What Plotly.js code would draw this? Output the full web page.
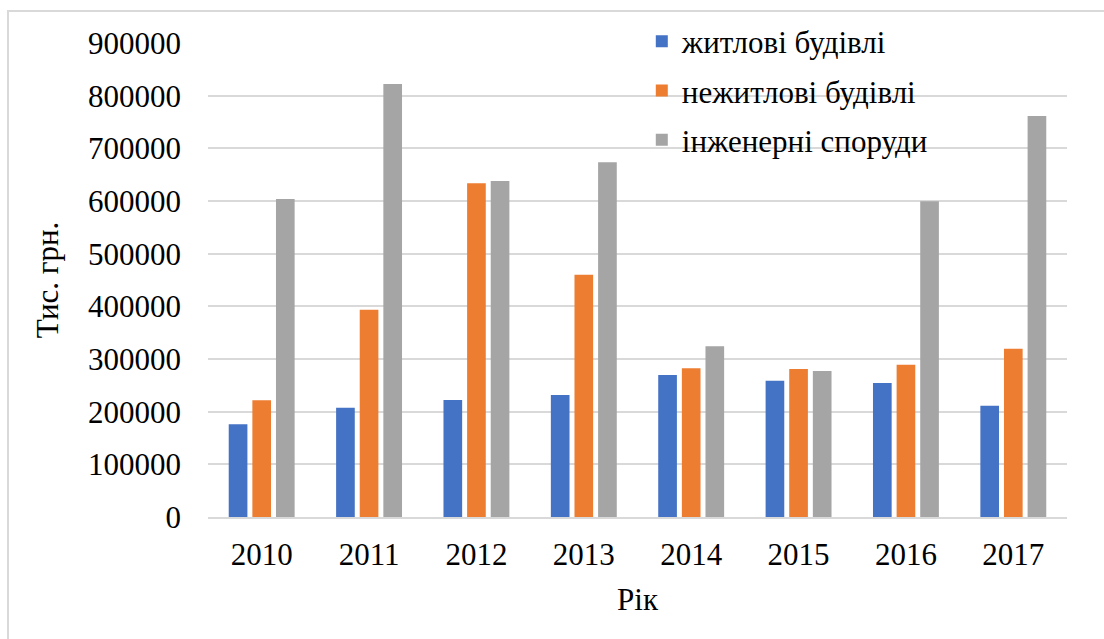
<!DOCTYPE html>
<html>
<head>
<meta charset="utf-8">
<script src="https://cdn.plot.ly/plotly-3.0.1.min.js"></script>
<style>
  html, body { margin: 0; padding: 0; background: #fff; }
  #wrap { position: relative; width: 1104px; height: 639px; overflow: hidden; }
  #chart { position: absolute; left: 0; top: 0; width: 1104px; height: 639px; }
  #frame { position: absolute; left: 7px; top: 10px; width: 1200px; height: 700px;
           border-left: 2px solid #d9d9d9; border-top: 2px solid #d9d9d9; pointer-events: none; }
</style>
</head>
<body>
<div id="wrap">
  <div id="chart"></div>
  <div id="frame"></div>
</div>
<script>
const years = ['2010', '2011', '2012', '2013', '2014', '2015', '2016', '2017'];
const seriesNames = ['житлові будівлі', 'нежитлові будівлі', 'інженерні споруди'];
const residential = [176000, 207600, 222000, 231600, 269600, 258900, 254400, 211400];
const nonResidential = [221500, 393700, 633500, 460000, 282300, 281000, 289200, 319600];
const engineering = [604000, 822000, 638000, 673400, 324000, 277200, 599400, 761400];
const yTicks = [0, 100000, 200000, 300000, 400000, 500000, 600000, 700000, 800000, 900000];
const colors = ['#4472C4', '#ED7D31', '#A5A5A5'];

const values = [residential, nonResidential, engineering];
const traces = values.map((v, i) => ({
  type: 'bar',
  name: seriesNames[i],
  x: years,
  y: v,
  legendgroup: 'g' + i,
  marker: { color: colors[i] },
  hoverinfo: 'x+y+name'
}));

const font = '"Liberation Serif", "Times New Roman", serif';

const layout = {
  width: 1104,
  height: 639,
  paper_bgcolor: 'rgba(0,0,0,0)',
  plot_bgcolor: 'rgba(0,0,0,0)',
  margin: { l: 208, r: 37, t: 43, b: 122 },
  barmode: 'group',
  bargap: 0.34,
  bargroupgap: 0.21,
  font: { family: font, size: 31, color: '#000' },
  xaxis: {
    type: 'category',
    showgrid: false,
    showline: true,
    linecolor: '#d9d9d9',
    linewidth: 2,
    ticks: '',
    tickfont: { family: font, size: 31, color: '#000' },
    ticklabelstandoff: 9,
    title: { text: 'Рік', font: { family: font, size: 31, color: '#000' }, standoff: 17 }
  },
  yaxis: {
    range: [0, 900000],
    tickvals: yTicks,
    ticktext: yTicks.map(String),
    showgrid: true,
    gridcolor: '#d9d9d9',
    gridwidth: 2,
    zeroline: false,
    showline: false,
    ticks: '',
    tickfont: { family: font, size: 31, color: '#000' },
    ticklabelstandoff: 26,
    title: { text: 'Тис. грн.', font: { family: font, size: 31, color: '#000' }, standoff: 20 }
  },
  showlegend: true,
  legend: {
    x: 0.505,
    y: 1.06,
    xanchor: 'left',
    yanchor: 'top',
    bgcolor: 'rgba(255,255,255,0)',
    font: { family: font, size: 31, color: '#000' },
    traceorder: 'grouped',
    tracegroupgap: 6,
    itemwidth: 30
  }
};

Plotly.newPlot('chart', traces, layout, { displayModeBar: false, staticPlot: true });
</script>
</body>
</html>
